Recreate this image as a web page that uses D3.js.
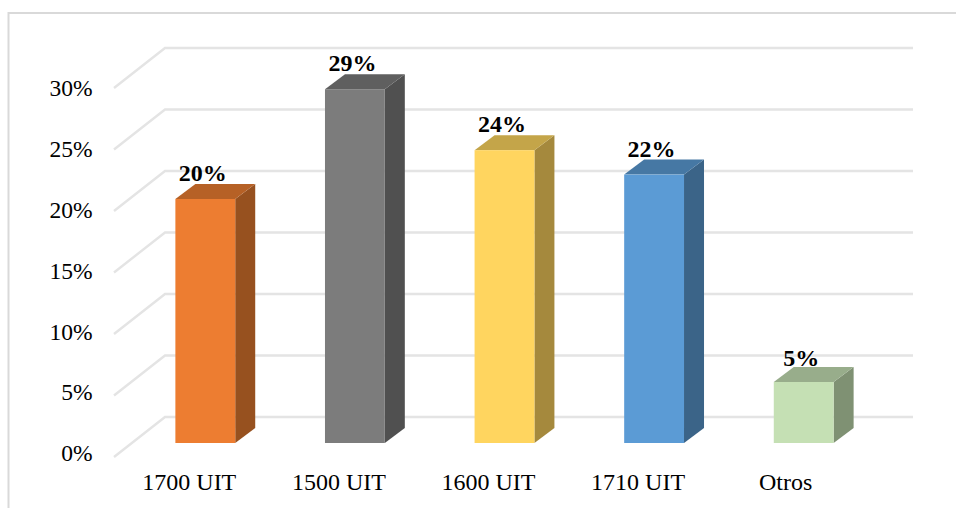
<!DOCTYPE html>
<html>
<head>
<meta charset="utf-8">
<script src="https://cdn.jsdelivr.net/npm/d3@7"></script>
<style>
html, body { margin: 0; padding: 0; background: #fff; }
text { font-family: "Liberation Serif", "Times New Roman", serif; fill: #000; }
</style>
</head>
<body>
<svg id="chart" width="956" height="508"></svg>
<script>
// Shares by category
const categories = ["1700 UIT", "1500 UIT", "1600 UIT", "1710 UIT", "Otros"];
const shares = [20, 29, 24, 22, 5];
const frontColors = ["#ED7D31", "#7C7C7C", "#FFD55F", "#5B9BD5", "#C5E0B4"];
const topColors = ["#B66126", "#5F5F5F", "#C4A549", "#4678A4", "#98AD8B"];
const sideColors = ["#97511F", "#505050", "#A5893D", "#3B6488", "#7F9173"];
const yTicks = [0, 5, 10, 15, 20, 25, 30];

const svg = d3.select("#chart");
const depthX = 20, depthY = -15;     // oblique offset of a bar's back face
const wallX = 51, wallY = -40;       // oblique offset of the back wall

const x = d3.scaleBand().domain(categories).range([130.5, 878.5]).paddingInner(0.6).paddingOuter(0.3);
const y = d3.scaleLinear().domain([0, 30]).range([443, 77]);
const yLabel = d3.scaleLinear().domain([0, 30]).range([453.5, 88.5]);
const yWall = d3.scaleLinear().domain([0, 30]).range([417, 48]);

// Outer frame, open on the right and at the bottom
svg.append("path")
  .attr("d", d3.line()([[8.5, 508], [8.5, 13], [956, 13]]))
  .attr("fill", "none").attr("stroke", "#d9d9d9").attr("stroke-width", 2);

// Floor-to-wall gridlines
const grid = svg.append("g").attr("fill", "none").attr("stroke", "#e4e4e4").attr("stroke-width", 2.4);
grid.selectAll("path").data(yTicks).join("path")
  .attr("d", t => d3.line()([
    [165 - wallX, yWall(t) - wallY],
    [165, yWall(t)],
    [913, yWall(t)]
  ]));

// Axis labels
svg.append("g").attr("font-size", 23.5).attr("text-anchor", "end")
  .selectAll("text").data(yTicks).join("text")
  .attr("x", 92.5).attr("y", t => yLabel(t)).attr("dy", "0.33em")
  .text(t => t + "%");

svg.append("g").attr("font-size", 24).attr("text-anchor", "middle")
  .selectAll("text").data(categories).join("text")
  .attr("x", (c, i) => x(c) + x.bandwidth() / 2 - (i === 4 ? 18 : 16))
  .attr("y", 490)
  .text(c => c);

// Bars: side face, top face, front face
const bars = svg.append("g").selectAll("g").data(categories).join("g");
const w = x.bandwidth();

bars.append("path").attr("fill", (c, i) => sideColors[i])
  .attr("d", (c, i) => {
    const r = x(c) + w, t = y(shares[i]), b = y(0);
    return d3.line()([[r, t], [r + depthX, t + depthY], [r + depthX, b + depthY], [r, b]]) + "Z";
  });
bars.append("path").attr("fill", (c, i) => topColors[i])
  .attr("d", (c, i) => {
    const l = x(c), t = y(shares[i]);
    return d3.line()([[l, t], [l + depthX, t + depthY], [l + w + depthX, t + depthY], [l + w, t]]) + "Z";
  });
bars.append("rect").attr("fill", (c, i) => frontColors[i])
  .attr("x", c => x(c)).attr("width", w)
  .attr("y", (c, i) => y(shares[i]))
  .attr("height", (c, i) => y(0) - y(shares[i]));

// Value labels, sitting over the top face
bars.append("text")
  .attr("font-size", 24).attr("font-weight", "bold").attr("text-anchor", "middle")
  .attr("x", c => x(c) + w / 2 - 2.5)
  .attr("y", (c, i) => y(shares[i]) - (i === 4 ? 16 : 18))
  .text((c, i) => shares[i] + "%");
</script>
</body>
</html>
